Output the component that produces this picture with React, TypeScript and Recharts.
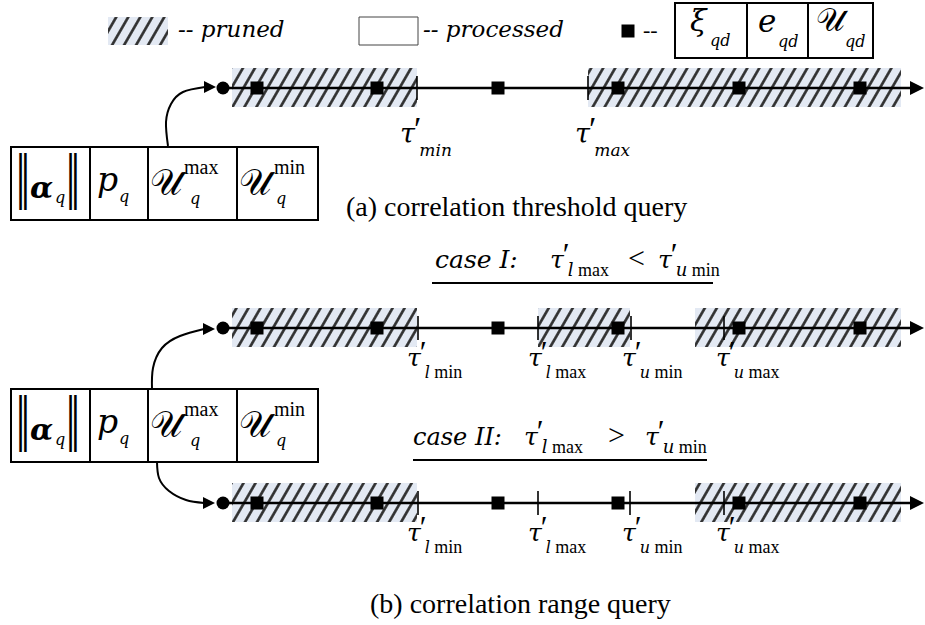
import React from 'react';
import { ComposedChart, XAxis, YAxis, Scatter, Line, ReferenceArea, ReferenceLine } from 'recharts';

const W = 925;
const H = 625;
const ROMAN = 'Liberation Serif';
const ITALIC = 'DejaVu Serif';

// three number lines: (a) threshold query, (b) case I, (b) case II
const rowY = [88, 328, 503];
const rowStartX = 223;
const rowEndX = 924;
// entries placed along every line
const entryX = [257, 377, 498, 618, 739, 860];

// pruned stretches [from, to] for each line
const prunedA = [[232, 417], [588, 901]];
const prunedB1 = [[232, 417], [538, 630], [695, 901]];
const prunedB2 = [[232, 417], [695, 901]];
const prunedRows = [prunedA, prunedB1, prunedB2];

// threshold ticks for each line
const thresholdsA = [417, 588];
const thresholdsB1 = [418, 538, 631, 724];
const thresholdsB2 = [418, 538, 630, 724];
const thresholdRows = [thresholdsA, thresholdsB1, thresholdsB2];

// threshold label names
const namesA = ['min', 'max'];
const namesB = [['l', ' min'], ['l', ' max'], ['u', ' min'], ['u', ' max']];
const labelXA = [400, 575];
const labelXB = [407, 528, 622, 716];

// query tables: column borders and top edges
const tableCols = [11, 90, 148, 237, 318];
const tableTops = [147, 389];
const tableH = 73;

// curved pointers from the tables to the lines
const curveA = [{ x: 168, y: 146 }, { x: 166, y: 122 }, { x: 171, y: 104 }, { x: 183, y: 92 }, { x: 205, y: 87 }];
const curveB1 = [{ x: 152, y: 389 }, { x: 153, y: 368 }, { x: 162, y: 348 }, { x: 180, y: 336 }, { x: 204, y: 329 }];
const curveB2 = [{ x: 157, y: 462 }, { x: 159, y: 478 }, { x: 169, y: 491 }, { x: 186, y: 500 }, { x: 204, y: 503 }];

// legend box cells for an entry
const entryBoxCols = [675, 747, 808, 873];
const entryBoxY = [3, 58];

interface Part {
  t: string;
  st?: string; // r roman, i italic, b bold italic
  size?: number;
  dx?: number;
  dy?: number;
}
interface Txt {
  x: number;
  y: number;
  size: number;
  parts: Part[];
  sy?: number;
  anchor?: string;
  font?: string;
}

const tx = (x: number, y: number, t: string, size: number, st = 'r', extra: Partial<Txt> = {}): Txt => ({
  x, y, size, parts: [{ t, st }], ...extra,
});

// τ′ with a subscript set under the prime
const tau = (x: number, base: number, size: number, sub: Part[], subSize: number, subDy: number): Txt => ({
  x,
  y: base,
  size,
  parts: [
    { t: 'τ', st: 'i' },
    { t: '′', size: size * 1.25, dy: -3, dx: -1 },
    ...sub.map((p, i) => ({ size: subSize, ...p, dy: i === 0 ? subDy + 3 : 0, dx: i === 0 ? -2 : 0 })),
  ],
});

const bars = { sy: 1.9, anchor: 'middle', font: 'DejaVu Sans' };
const tableTexts = (top: number): Txt[] => [
  tx(23, top + 49, '‖', 30, 'r', bars),
  tx(73, top + 49, '‖', 30, 'r', bars),
  tx(30, top + 51, 'α', 30, 'b'),
  tx(55, top + 56, 'q', 16, 'i'),
  tx(97, top + 44, 'p', 33, 'i'),
  tx(119, top + 55, 'q', 16, 'i'),
  tx(150, top + 48, '𝒰', 36),
  tx(184, top + 27, 'max', 20),
  tx(190, top + 57, 'q', 16, 'i'),
  tx(239, top + 48, '𝒰', 36),
  tx(274, top + 27, 'min', 20),
  tx(276, top + 57, 'q', 16, 'i'),
];

const texts: Txt[] = [
  tx(178, 37, '-- pruned', 23, 'i'),
  tx(423, 37, '-- processed', 23, 'i'),
  tx(643, 37, '--', 22),
  tx(690, 31, 'ξ', 30, 'i'),
  tx(710, 46, 'qd', 16, 'i'),
  tx(758, 32, 'e', 31, 'i'),
  tx(778, 47, 'qd', 16, 'i'),
  tx(816, 31, '𝒰', 32),
  tx(845, 47, 'qd', 16, 'i'),
  tx(346, 216, '(a) correlation threshold query', 28),
  tx(370, 613, '(b) correlation range query', 28),
  tx(435, 268, 'case I:', 25, 'i'),
  tau(550, 268, 25, [{ t: 'l', st: 'i' }, { t: ' max' }], 18, 8),
  tx(628, 268, '<', 30),
  tau(658, 268, 25, [{ t: 'u', st: 'i' }, { t: ' min' }], 18, 8),
  tx(413, 445, 'case II:', 24, 'i'),
  tau(524, 445, 25, [{ t: 'l', st: 'i' }, { t: ' max' }], 18, 8),
  tx(608, 445, '>', 30),
  tau(645, 445, 25, [{ t: 'u', st: 'i' }, { t: ' min' }], 18, 8),
  ...labelXA.map((x, i) => tau(x, 143, 27, [{ t: namesA[i], st: 'i' }], 17, 13)),
  ...[1, 2].flatMap((r) =>
    labelXB.map((x, i) => tau(x, rowY[r] + 38, 25, [{ t: namesB[i][0], st: 'i', size: 16 }, { t: namesB[i][1] }], 18, 12)),
  ),
  ...tableTops.flatMap(tableTexts),
];

const partStyle = (q: Part, base: number, font?: string) => {
  const slanted = q.st === 'i' || q.st === 'b';
  return {
    fontFamily: slanted ? ITALIC : font || ROMAN,
    fontStyle: slanted ? 'italic' : 'normal',
    fontWeight: q.st === 'b' ? 700 : 400,
    fontSize: q.size ?? base,
  };
};

const TextShape = (p: any) => {
  const d: Txt = p.payload ?? p;
  return (
    <text
      transform={`translate(${p.cx},${p.cy}) scale(1,${d.sy || 1})`}
      fontFamily={d.font || ROMAN}
      fontSize={d.size}
      textAnchor={d.anchor || 'start'}
      fill="#000"
    >
      {d.parts.map((q, i) => (
        <tspan key={i} style={partStyle(q, d.size, d.font)} dx={q.dx || undefined} dy={q.dy || undefined}>
          {q.t}
        </tspan>
      ))}
    </text>
  );
};

const SquareShape = (p: any) => <rect x={p.cx - 6.5} y={p.cy - 6.5} width={13} height={13} fill="#000" />;
const DotShape = (p: any) => <circle cx={p.cx} cy={p.cy} r={6.5} fill="#000" />;
const BigHead = (p: any) => (
  <polygon points={`${p.cx},${p.cy} ${p.cx - 14},${p.cy - 7} ${p.cx - 14},${p.cy + 7}`} fill="#000" />
);
const SmallHead = (p: any) => (
  <polygon points={`${p.cx},${p.cy} ${p.cx - 12},${p.cy - 6} ${p.cx - 12},${p.cy + 6}`} fill="#000" />
);

const squares = rowY.flatMap((y) => entryX.map((x) => ({ x, y })));
const starts = rowY.map((y) => ({ x: rowStartX, y }));
const ends = rowY.map((y) => ({ x: rowEndX, y }));
const curveHeads = [curveA, curveB1, curveB2].map((c) => ({ x: c[c.length - 1].x + 11, y: c[c.length - 1].y }));

export default function App() {
  return (
    <div style={{ position: 'absolute', left: 0, top: 0, width: W, height: H, background: '#fff', fontFamily: ROMAN }}>
      <svg width={0} height={0} style={{ position: 'absolute' }}>
        <defs>
          <pattern id="pruned-hatch" width={10.4} height={10.4} patternUnits="userSpaceOnUse" patternTransform="rotate(30)">
            <rect width={10.4} height={10.4} fill="#e3e9f3" />
            <line x1={5.2} y1={0} x2={5.2} y2={10.4} stroke="#2b2b2b" strokeWidth={2.6} />
          </pattern>
        </defs>
      </svg>
      <ComposedChart width={W} height={H} margin={{ top: 0, right: 0, bottom: 0, left: 0 }}>
        <XAxis type="number" dataKey="x" domain={[0, W]} hide allowDataOverflow />
        <YAxis type="number" dataKey="y" domain={[0, H]} reversed hide allowDataOverflow />

        {/* legend */}
        <ReferenceArea x1={108} x2={168} y1={17} y2={45} fill="url(#pruned-hatch)" fillOpacity={1} stroke="none" />
        <ReferenceArea x1={359} x2={418} y1={17} y2={45} fill="#fff" fillOpacity={1} stroke="#444" strokeWidth={1} />
        {entryBoxCols.slice(1).map((x2, i) => (
          <ReferenceArea key={`eb${i}`} x1={entryBoxCols[i]} x2={x2} y1={entryBoxY[0]} y2={entryBoxY[1]} fill="#fff" fillOpacity={1} stroke="#000" strokeWidth={2} />
        ))}

        {/* pruned stretches */}
        {prunedRows.flatMap((spans, r) =>
          spans.map(([a, b], i) => (
            <ReferenceArea key={`p${r}-${i}`} x1={a} x2={b} y1={rowY[r] - 20} y2={rowY[r] + 19} fill="url(#pruned-hatch)" fillOpacity={1} stroke="none" />
          )),
        )}

        {/* number lines */}
        {rowY.map((y, r) => (
          <ReferenceLine key={`l${r}`} segment={[{ x: rowStartX, y }, { x: rowEndX - 10, y }]} stroke="#000" strokeWidth={2.5} />
        ))}
        {thresholdRows.flatMap((ts, r) =>
          ts.map((x, i) => (
            <ReferenceLine key={`t${r}-${i}`} segment={[{ x, y: rowY[r] - 12 }, { x, y: rowY[r] + 12 }]} stroke="#000" strokeWidth={1.6} />
          )),
        )}

        {/* query tables */}
        {tableTops.flatMap((top, t) =>
          tableCols.slice(1).map((x2, i) => (
            <ReferenceArea key={`c${t}-${i}`} x1={tableCols[i]} x2={x2} y1={top} y2={top + tableH} fill="#fff" fillOpacity={1} stroke="#000" strokeWidth={2} />
          )),
        )}

        {/* case underlines */}
        <ReferenceLine segment={[{ x: 432, y: 283 }, { x: 713, y: 283 }]} stroke="#000" strokeWidth={2} />
        <ReferenceLine segment={[{ x: 413, y: 460 }, { x: 707, y: 460 }]} stroke="#000" strokeWidth={2} />

        {[curveA, curveB1, curveB2].map((c, i) => (
          <Line key={`cv${i}`} data={c} dataKey="y" type="natural" stroke="#000" strokeWidth={2} dot={false} activeDot={false} isAnimationActive={false} />
        ))}

        <Scatter data={squares} shape={SquareShape} isAnimationActive={false} />
        <Scatter data={starts} shape={DotShape} isAnimationActive={false} />
        <Scatter data={ends} shape={BigHead} isAnimationActive={false} />
        <Scatter data={curveHeads} shape={SmallHead} isAnimationActive={false} />
        <Scatter data={[{ x: 628, y: 31 }]} shape={SquareShape} isAnimationActive={false} />
        <Scatter data={texts} shape={TextShape} isAnimationActive={false} />
      </ComposedChart>
    </div>
  );
}
